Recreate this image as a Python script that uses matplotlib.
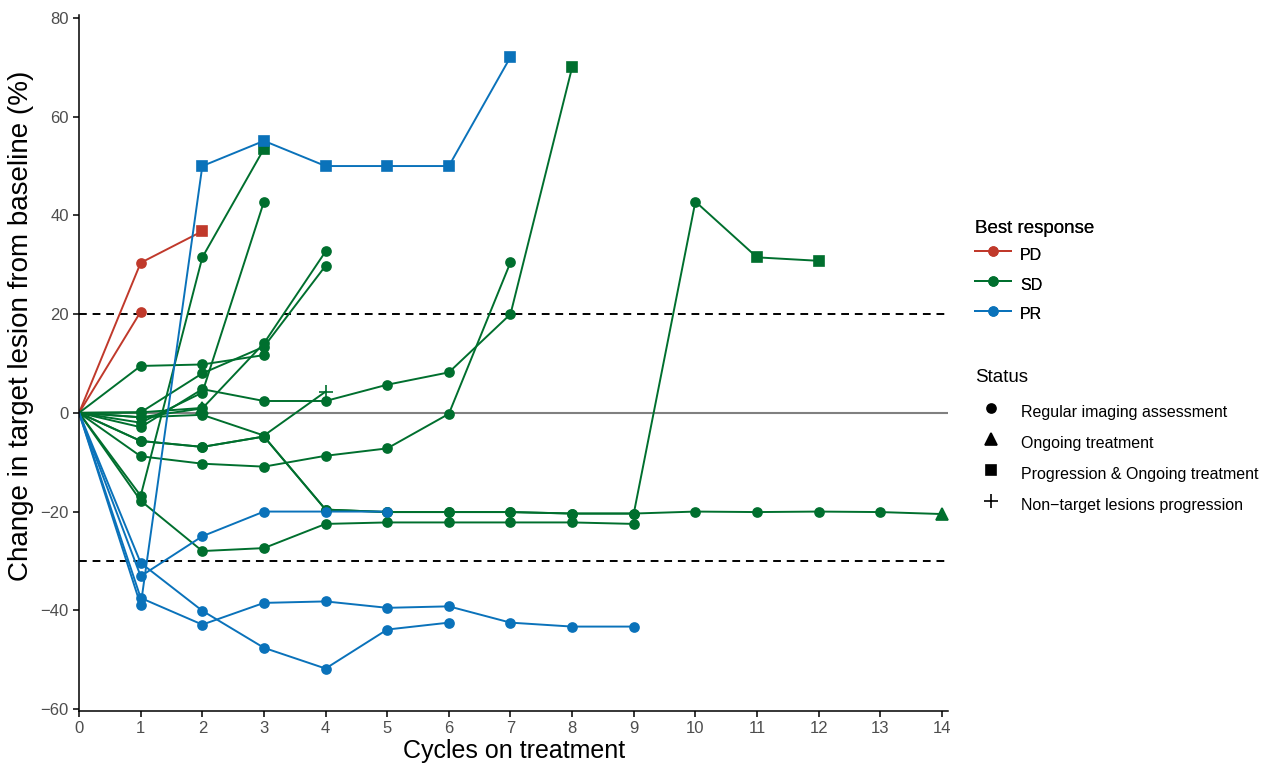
import matplotlib
matplotlib.use("Agg")
import matplotlib.pyplot as plt
from matplotlib.lines import Line2D

plt.rcParams['font.family'] = ['Liberation Sans', 'DejaVu Sans']

# status codes: R regular imaging, O ongoing, P progression & ongoing, N non-target progression
pd_1 = [0, 30.4, 36.8]
pd_1_st = ['R', 'R', 'P']
pd_2 = [0, 20.5]
pd_2_st = ['R', 'R']

sd_1 = [0, 9.5, 9.8, 11.7]
sd_1_st = ['R'] * 4
sd_2 = [0, 0.1, 8.0, 13.4, 29.8]
sd_2_st = ['R'] * 5
sd_3 = [0, -0.9, 0.9, 14.1, 32.7]
sd_3_st = ['R'] * 5
sd_4 = [0, -2.9, 4.8, 2.4, 2.4, 5.7, 8.2, 20.0, 70.0]
sd_4_st = ['R'] * 8 + ['P']
sd_5 = [0, -2.0, 4.1, 42.8]
sd_5_st = ['R'] * 4
sd_6 = [0, 0.1, 1.0]
sd_6_st = ['R', 'R', 'O']
sd_7 = [0, -0.9, -0.4, -4.6, 4.3]
sd_7_st = ['R', 'R', 'R', 'R', 'N']
sd_8 = [0, -5.7, -6.9, -4.8, -19.6, -20.1, -20.1, -20.1, -20.4, -20.4, -20.0, -20.1, -20.0, -20.1, -20.5]
sd_8_st = ['R'] * 14 + ['O']
sd_9 = [0, -5.7, -6.9, -4.8, -19.6, -20.1, -20.1, -20.1, -20.4, -20.4, 42.8, 31.5, 30.8]
sd_9_st = ['R'] * 11 + ['P', 'P']
sd_10 = [0, -8.8, -10.3, -10.9, -8.7, -7.2, -0.2, 30.5]
sd_10_st = ['R'] * 8
sd_11 = [0, -16.8, 31.5, 53.5]
sd_11_st = ['R', 'R', 'R', 'P']
sd_12 = [0, -17.8, -28.0, -27.4, -22.5, -22.2, -22.2, -22.2, -22.2, -22.5]
sd_12_st = ['R'] * 10

pr_1 = [0, -39.0, 50.0, 55.1, 50.0, 50.0, 50.0, 72.1]
pr_1_st = ['R', 'R', 'P', 'P', 'P', 'P', 'P', 'P']
pr_2 = [0, -33.1, -25.0, -20.0, -20.0, -20.0]
pr_2_st = ['R'] * 6
pr_3 = [0, -30.4, -40.1, -47.6, -51.8, -43.9, -42.5]
pr_3_st = ['R'] * 7
pr_4 = [0, -37.5, -42.9, -38.5, -38.2, -39.5, -39.2, -42.5, -43.3, -43.3]
pr_4_st = ['R'] * 10

responses = ['PD', 'SD', 'PR']
status_labels = ['Regular imaging assessment', 'Ongoing treatment',
                 'Progression & Ongoing treatment', 'Non\u2212target lesions progression']
status_codes = ['R', 'O', 'P', 'N']

colors = {'PD': '#C0392B', 'SD': '#006F2E', 'PR': '#0A72BA'}
markers = {'R': 'o', 'O': '^', 'P': 's', 'N': '+'}
msizes = {'R': 6.5, 'O': 8, 'P': 6.5, 'N': 10}

groups = {
    'PD': [(pd_1, pd_1_st), (pd_2, pd_2_st)],
    'SD': [(sd_1, sd_1_st), (sd_2, sd_2_st), (sd_3, sd_3_st), (sd_4, sd_4_st),
           (sd_5, sd_5_st), (sd_6, sd_6_st), (sd_7, sd_7_st), (sd_8, sd_8_st),
           (sd_9, sd_9_st), (sd_10, sd_10_st), (sd_11, sd_11_st), (sd_12, sd_12_st)],
    'PR': [(pr_1, pr_1_st), (pr_2, pr_2_st), (pr_3, pr_3_st), (pr_4, pr_4_st)],
}

fig = plt.figure(figsize=(12.67, 7.65), dpi=100)
ax = fig.add_axes([0.0624, 0.0706, 0.6859, 0.9098])

ax.axhline(0, color='#808080', lw=1.5, zorder=1)
ax.axhline(20, color='black', lw=1.4, ls=(0, (4, 3)), zorder=1)
ax.axhline(-30, color='black', lw=1.4, ls=(0, (4, 3)), zorder=1)

for resp in responses:
    c = colors[resp]
    for vals, st in groups[resp]:
        x = list(range(len(vals)))
        ax.plot(x, vals, color=c, lw=1.4, zorder=2)
        for code in status_codes:
            px = [x[i] for i in range(1, len(vals)) if st[i] == code]
            py = [vals[i] for i in range(1, len(vals)) if st[i] == code]
            if px:
                ax.plot(px, py, ls='none', marker=markers[code], ms=msizes[code],
                        color=c, mew=1.2, zorder=3)

ax.set_xlim(0, 14.1)
ax.set_ylim(-60.4, 80.6)
ax.set_xticks(range(0, 15))
ax.set_yticks(range(-60, 81, 20))
for s in ['top', 'right']:
    ax.spines[s].set_visible(False)
for s in ['left', 'bottom']:
    ax.spines[s].set_linewidth(1.1)
ax.tick_params(axis='both', direction='out', length=4, width=1.1,
               labelsize=12, labelcolor='#4D4D4D')
ax.set_xlabel('Cycles on treatment', fontsize=18, labelpad=2)
ax.set_ylabel('Change in target lesion from baseline (%)', fontsize=20)
ax.yaxis.set_label_coords(-0.052, 0.553)

resp_handles = [Line2D([], [], color=colors[r], marker='o', ms=6.5, lw=1.4) for r in responses]
leg1 = fig.legend(resp_handles, responses, title='Best response', loc='upper left',
                  bbox_to_anchor=(0.7585, 0.7307), frameon=False, fontsize=11.5,
                  title_fontsize=13.5, handlelength=2.2, handleheight=1.95,
                  handletextpad=0.6, labelspacing=0.34, alignment='left')

# status legend: title drawn separately to get the wider gap below it
fig.text(0.7695, 0.5059, 'Status', fontsize=13.5, ha='left', va='center')
st_handles = [Line2D([], [], color='black', ls='none', marker=markers[k], ms=msizes[k], mew=1.2)
              for k in status_codes]
leg2 = fig.legend(st_handles, status_labels, loc='upper left',
                  bbox_to_anchor=(0.7585, 0.497), frameon=False, fontsize=11.5,
                  handlelength=1.9, handleheight=2.08,
                  handletextpad=0.94, labelspacing=0.34)
fig.add_artist(leg1)

fig.savefig('out.png', dpi=100)
